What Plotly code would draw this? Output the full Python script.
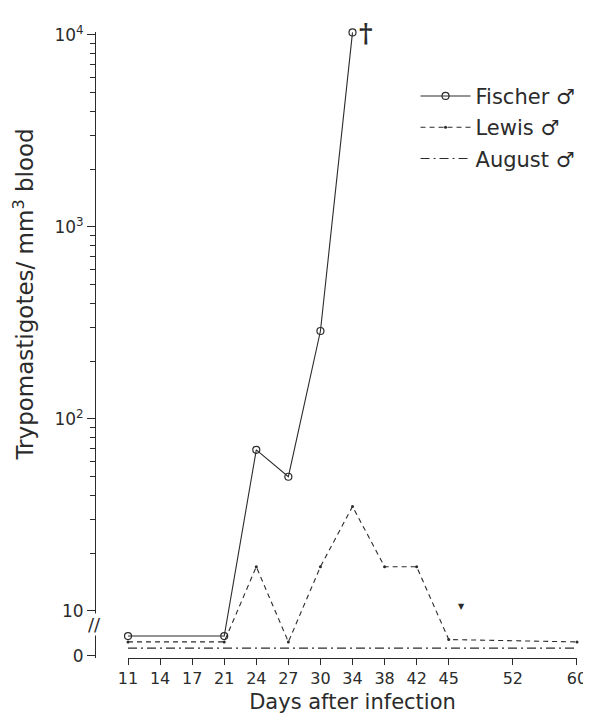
import plotly.graph_objects as go

# ---- data ----
axis_days = ["11", "14", "17", "21", "24", "27", "30", "34", "38", "42", "45", "48", "52", "56", "60"]
tick_days = ["11", "14", "17", "21", "24", "27", "30", "34", "38", "42", "45", "52", "60"]

fischer_days = ["11", "21", "24", "27", "30", "34"]
fischer_vals = [7.4, 7.4, 69, 50, 287, 10300]

lewis_days = ["11", "21", "24", "27", "30", "34", "38", "42", "45", "60"]
lewis_vals = [6.9, 6.9, 17, 6.9, 17, 35, 17, 17, 7.1, 6.9]

august_days = ["11", "14", "17", "21", "24", "27", "30", "34", "38", "42", "45", "52", "60"]
august_vals = [6.4] * 13

y_tick_vals = [5.83, 10, 100, 1000, 10000]
y_tick_text = ["0", "10", "10<sup>2</sup>", "10<sup>3</sup>", "10<sup>4</sup>"]
y_minor_vals = [m * d for d in (10, 100, 1000) for m in range(2, 10)]

INK = "#2b2b2b"
FONT = "DejaVu Sans, sans-serif"

fig = go.Figure()
fig.add_trace(go.Scatter(
    x=fischer_days, y=fischer_vals, name="Fischer ♂", mode="lines+markers",
    line=dict(color=INK, width=1.1),
    marker=dict(symbol="circle-open", size=7, color=INK, line=dict(width=1.2)),
    cliponaxis=False, legendgroup="f"))
fig.add_trace(go.Scatter(
    x=lewis_days, y=lewis_vals, name="Lewis ♂", mode="lines+markers",
    line=dict(color=INK, width=1.1, dash="5px,4px"),
    marker=dict(symbol="circle", size=3, color=INK),
    cliponaxis=False, legendgroup="l"))
fig.add_trace(go.Scatter(
    x=august_days, y=august_vals, name="August ♂", mode="lines",
    line=dict(color=INK, width=1.1, dash="9px,4px,2px,4px"),
    cliponaxis=False, legendgroup="a"))

fig.update_layout(
    width=591, height=722,
    margin=dict(l=87, r=22, t=24, b=72, autoexpand=False),
    paper_bgcolor="white", plot_bgcolor="white",
    font=dict(family=FONT, size=16, color=INK),
    showlegend=True,
    legend=dict(x=0.665, y=0.93, xanchor="left", yanchor="top",
                font=dict(size=21), tracegroupgap=1, itemwidth=50,
                bgcolor="rgba(0,0,0,0)"),
    xaxis=dict(
        type="category", categoryorder="array", categoryarray=axis_days,
        range=[0, 14], domain=[0.0685, 1], automargin=False,
        tickmode="array", tickvals=tick_days, ticktext=tick_days,
        showline=True, linecolor=INK, linewidth=1,
        ticks="outside", ticklen=6, tickcolor=INK, tickwidth=1,
        showgrid=False, zeroline=False,
        tickfont=dict(size=16),
        title=dict(text="Days after infection", font=dict(size=21), standoff=7),
    ),
    yaxis=dict(
        type="log", range=[0.755, 4.015], automargin=False,
        anchor="free", position=0,
        tickmode="array", tickvals=y_tick_vals, ticktext=y_tick_text,
        showline=True, linecolor=INK, linewidth=1,
        ticks="outside", ticklen=8, tickcolor=INK, tickwidth=1,
        minor=dict(tickmode="array", tickvals=y_minor_vals, ticks="outside",
                   ticklen=5, tickcolor=INK, showgrid=False),
        showgrid=False, zeroline=False,
        tickfont=dict(size=17),
    ),
)

# y-axis title
fig.add_annotation(xref="paper", yref="paper", x=-0.148, y=0.580, xanchor="center",
                   yanchor="middle", textangle=-90, showarrow=False,
                   text="Trypomastigotes/ mm<sup>3</sup> blood",
                   font=dict(size=23, color=INK))
# axis break, death mark, misc
fig.add_annotation(xref="paper", yref="paper", x=-0.002, y=0.053, xanchor="center",
                   yanchor="middle", text="//", showarrow=False,
                   font=dict(size=18, color=INK), bgcolor="white", borderpad=0)
fig.add_annotation(xref="paper", yref="paper", x=0.562, y=0.998, xanchor="center",
                   yanchor="middle", text="<b>†</b>", showarrow=False,
                   font=dict(size=26, family="DejaVu Serif", color=INK))
fig.add_annotation(xref="paper", yref="paper", x=0.761, y=0.0815, xanchor="center",
                   yanchor="middle", text="▼", showarrow=False,
                   font=dict(size=8, color=INK))
fig.add_annotation(xref="paper", yref="paper", x=-0.187, y=-0.091, xanchor="left",
                   yanchor="top", text="Fig. 1", showarrow=False,
                   font=dict(size=26, family="Liberation Serif", color=INK))

fig.write_html("out.html")
